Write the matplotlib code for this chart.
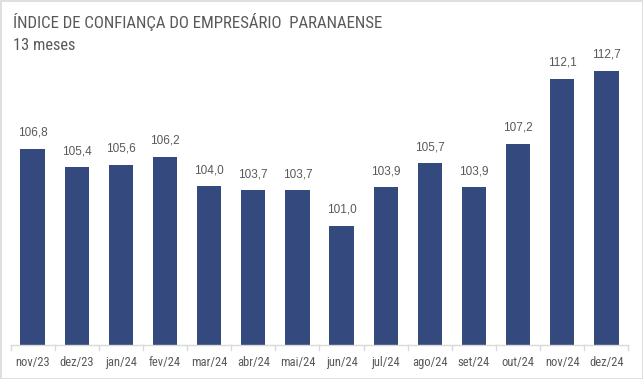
import matplotlib
matplotlib.use("Agg")
import matplotlib.pyplot as plt
from matplotlib.patches import Rectangle
from matplotlib import font_manager

categories = ["nov/23", "dez/23", "jan/24", "fev/24", "mar/24", "abr/24", "mai/24",
              "jun/24", "jul/24", "ago/24", "set/24", "out/24", "nov/24", "dez/24"]
values = [106.8, 105.4, 105.6, 106.2, 104.0, 103.7, 103.7,
          101.0, 103.9, 105.7, 103.9, 107.2, 112.1, 112.7]

available = set(f.name for f in font_manager.fontManager.ttflist)
def pick(cands):
    for c in cands:
        if c in available:
            return c
    return "DejaVu Sans"

narrow = pick(["Roboto Condensed", "Archivo Narrow", "PT Sans Narrow", "Asap Condensed",
               "Liberation Sans Narrow", "Liberation Sans"])
regular = pick(["Liberation Sans", "Roboto", "DejaVu Sans"])

W, H = 643, 379
fig = plt.figure(figsize=(W/100, H/100), dpi=100)
ax = fig.add_axes([10.5/W, 1-345/H, (628.5-10.5)/W, (345-53.5)/H])

bar_color = "#34497D"
x = range(len(categories))
ax.bar(x, values, width=0.55, color=bar_color, zorder=2)
ax.set_ylim(92, 114)
ax.set_xlim(-0.5, len(categories)-0.5)

for xi, v in zip(x, values):
    ax.text(xi, v + 0.75, f"{v:.1f}".replace(".", ","), ha="center", va="bottom",
            fontsize=8.5, color="#595959", family=[regular, "DejaVu Sans"])

ax.set_xticks(list(x))
ax.set_xticklabels(categories, fontsize=9, color="#595959", family=[narrow, "DejaVu Sans"])
ax.tick_params(axis="x", length=0, pad=8)
ax.set_yticks([])
for s in ["top", "right", "left"]:
    ax.spines[s].set_visible(False)
ax.spines["bottom"].set_color("#D9D9D9")
ax.spines["bottom"].set_linewidth(1)
for b in [i - 0.5 for i in range(len(categories)+1)]:
    ax.plot([b, b], [92, 92 - 0.35], color="#D9D9D9", lw=1, clip_on=False)

fig.text(13/W, 1-22/H, "ÍNDICE DE CONFIANÇA DO EMPRESÁRIO  PARANAENSE", fontsize=12.2,
         color="#595959", va="center", ha="left", family=[narrow, "DejaVu Sans"])
fig.text(13/W, 1-45/H, "13 meses", fontsize=11.8, color="#595959", va="center", ha="left",
         family=[narrow, "DejaVu Sans"])

fig.patches.append(Rectangle((0.5/W, 0.5/H), 1-1/W, 1-1/H, transform=fig.transFigure,
                             fill=False, edgecolor="#D9D9D9", lw=1.2))

fig.savefig("out.png", dpi=100)
